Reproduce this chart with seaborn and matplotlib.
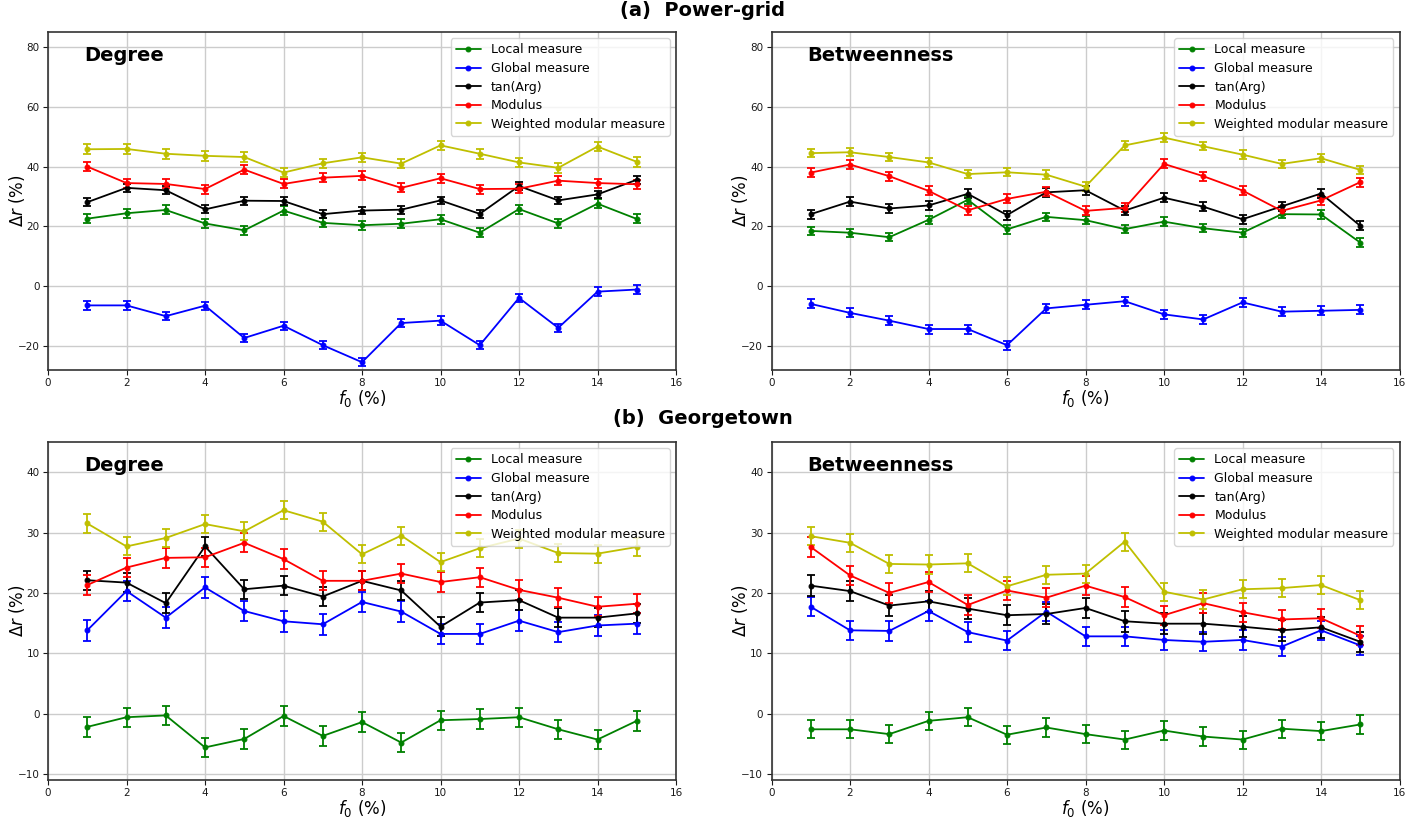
import numpy as np
import pandas as pd
import matplotlib
matplotlib.use("Agg")
import matplotlib.pyplot as plt
import seaborn as sns

f0 = [1, 2, 3, 4, 5, 6, 7, 8, 9, 10, 11, 12, 13, 14, 15]
names = ["Local measure", "Global measure", "tan(Arg)", "Modulus", "Weighted modular measure"]
colors = ["g", "b", "k", "r", "y"]

# (a) Power-grid, Degree
pg_deg_local = [22.6, 24.4, 25.5, 21.0, 18.7, 25.3, 21.2, 20.4, 20.9, 22.4, 17.9, 25.8, 21.0, 27.6, 22.5]
pg_deg_global = [-6.4, -6.4, -10.0, -6.5, -17.3, -13.2, -19.7, -25.4, -12.3, -11.5, -19.7, -3.9, -13.9, -1.8, -1.1]
pg_deg_tan = [28.1, 32.9, 32.1, 25.7, 28.6, 28.5, 24.1, 25.3, 25.6, 28.7, 24.2, 33.5, 28.7, 30.7, 35.6]
pg_deg_mod = [40.0, 34.5, 34.2, 32.5, 39.0, 34.2, 36.3, 36.9, 32.9, 36.1, 32.5, 32.6, 35.3, 34.5, 34.1]
pg_deg_wmm = [45.8, 45.9, 44.3, 43.6, 43.2, 38.0, 41.1, 43.1, 41.0, 47.1, 44.3, 41.4, 39.6, 46.7, 41.6]
pg_deg_err = [1.5, 1.4, 1.3, 1.5, 1.6]

# (a) Power-grid, Betweenness
pg_bet_local = [18.5, 17.9, 16.4, 22.2, 28.9, 19.0, 23.2, 22.1, 19.1, 21.6, 19.4, 17.9, 24.1, 24.0, 14.6]
pg_bet_global = [-5.9, -8.9, -11.5, -14.3, -14.3, -19.7, -7.4, -6.2, -5.0, -9.4, -11.1, -5.4, -8.5, -8.2, -7.9]
pg_bet_tan = [24.1, 28.3, 26.0, 27.0, 30.9, 23.8, 31.4, 32.1, 25.3, 29.6, 26.6, 22.4, 26.7, 31.0, 20.2]
pg_bet_mod = [38.0, 40.7, 36.8, 31.9, 25.4, 29.2, 31.6, 25.2, 26.2, 40.9, 36.8, 32.0, 25.2, 28.7, 34.8]
pg_bet_wmm = [44.5, 44.8, 43.2, 41.4, 37.5, 38.1, 37.3, 33.3, 47.1, 49.7, 46.8, 44.0, 40.9, 42.8, 38.9]
pg_bet_err = [1.4, 1.5, 1.5, 1.5, 1.4]

# (b) Georgetown, Degree
gt_deg_local = [-2.2, -0.6, -0.3, -5.6, -4.2, -0.4, -3.7, -1.4, -4.8, -1.1, -0.9, -0.6, -2.6, -4.3, -1.2]
gt_deg_global = [13.8, 20.3, 15.9, 20.9, 17.0, 15.3, 14.8, 18.5, 16.9, 13.2, 13.2, 15.4, 13.5, 14.6, 14.9]
gt_deg_tan = [22.1, 21.7, 18.3, 27.7, 20.6, 21.2, 19.4, 22.0, 20.4, 14.4, 18.4, 18.8, 15.9, 15.9, 16.6]
gt_deg_mod = [21.3, 24.2, 25.8, 25.9, 28.3, 25.6, 22.0, 22.0, 23.2, 21.8, 22.6, 20.5, 19.2, 17.7, 18.2]
gt_deg_wmm = [31.5, 27.7, 29.1, 31.4, 30.2, 33.7, 31.8, 26.4, 29.5, 25.1, 27.4, 29.0, 26.6, 26.5, 27.6]
gt_deg_err = [1.6, 1.7, 1.6, 1.6, 1.5]

# (b) Georgetown, Betweenness
gt_bet_local = [-2.6, -2.6, -3.4, -1.2, -0.6, -3.5, -2.3, -3.4, -4.3, -2.8, -3.8, -4.3, -2.5, -2.9, -1.8]
gt_bet_global = [17.7, 13.8, 13.7, 17.0, 13.5, 12.1, 16.9, 12.8, 12.8, 12.2, 11.9, 12.2, 11.1, 13.8, 11.3]
gt_bet_tan = [21.2, 20.3, 17.9, 18.6, 17.4, 16.3, 16.5, 17.5, 15.3, 14.9, 14.9, 14.4, 13.8, 14.3, 11.9]
gt_bet_mod = [27.6, 22.9, 20.0, 21.8, 18.0, 20.4, 19.2, 21.2, 19.3, 16.3, 18.3, 16.8, 15.6, 15.8, 12.9]
gt_bet_wmm = [29.4, 28.3, 24.8, 24.7, 24.9, 21.1, 23.0, 23.2, 28.5, 20.2, 18.9, 20.6, 20.8, 21.3, 18.8]
gt_bet_err = [1.5, 1.6, 1.7, 1.6, 1.5]

sns.set_style("whitegrid", {"grid.color": "#cccccc", "axes.edgecolor": "0.2",
                            "xtick.bottom": True, "ytick.left": True,
                            "text.color": "black", "xtick.color": "0.1", "ytick.color": "0.1",
                            "axes.labelcolor": "black"})
plt.rcParams["font.family"] = ["DejaVu Sans"]
plt.rcParams["xtick.major.size"] = 3.5
plt.rcParams["ytick.major.size"] = 3.5
plt.rcParams["xtick.major.pad"] = 2.5
plt.rcParams["ytick.major.pad"] = 2.5
plt.rcParams["xtick.labelsize"] = 7.5
plt.rcParams["ytick.labelsize"] = 7.5

fig = plt.figure(figsize=(14.06, 8.17), dpi=100)
W, H = 1406, 817
ax_pos = {
    "a_l": [48 / W, 1 - 370 / H, 628 / W, 338 / H],
    "a_r": [771.5 / W, 1 - 370 / H, 628 / W, 338 / H],
    "b_l": [48 / W, 1 - 780 / H, 628 / W, 338 / H],
    "b_r": [771.5 / W, 1 - 780 / H, 628 / W, 338 / H],
}

panels = [
    ("a_l", "Degree", [pg_deg_local, pg_deg_global, pg_deg_tan, pg_deg_mod, pg_deg_wmm], pg_deg_err, (-28, 85), np.arange(-20, 81, 20)),
    ("a_r", "Betweenness", [pg_bet_local, pg_bet_global, pg_bet_tan, pg_bet_mod, pg_bet_wmm], pg_bet_err, (-28, 85), np.arange(-20, 81, 20)),
    ("b_l", "Degree", [gt_deg_local, gt_deg_global, gt_deg_tan, gt_deg_mod, gt_deg_wmm], gt_deg_err, (-11, 45), np.arange(-10, 41, 10)),
    ("b_r", "Betweenness", [gt_bet_local, gt_bet_global, gt_bet_tan, gt_bet_mod, gt_bet_wmm], gt_bet_err, (-11, 45), np.arange(-10, 41, 10)),
]

for key, label, series, errs, ylim, yticks in panels:
    ax = fig.add_axes(ax_pos[key])
    for name, c, vals, e in zip(names, colors, series, errs):
        df = pd.DataFrame({"f0": f0, "dr": vals})
        ax.errorbar(df["f0"], df["dr"], yerr=e, fmt="none", ecolor=c,
                    elinewidth=1.3, capsize=3, capthick=1.3, zorder=2)
        sns.lineplot(data=df, x="f0", y="dr", color=c, marker="o", markersize=3.5,
                     markeredgecolor=c, linewidth=1.3, label=name, ax=ax, zorder=3)
    ax.set_xlim(0, 16)
    ax.set_xticks(np.arange(0, 17, 2))
    ax.set_ylim(*ylim)
    ax.set_yticks(yticks)
    ax.set_xlabel("$f_0$ (%)", fontsize=12)
    ax.set_ylabel("$\\Delta r$ (%)", fontsize=12)
    ax.xaxis.set_label_coords(0.5, -0.054)
    ax.yaxis.set_label_coords(-0.034, 0.5)
    ax.grid(True, color="#cccccc", linewidth=1)
    ax.text(0.057, 0.929, label, transform=ax.transAxes, fontsize=14,
            fontweight="bold", ha="left", va="center", color="black")
    ax.legend(loc="upper right", fontsize=9, framealpha=0.8, edgecolor="#cccccc",
              labelspacing=0.45)
    for s in ax.spines.values():
        s.set_linewidth(1.2)

fig.text(0.5, 1 - 10 / H, "(a)  Power-grid", ha="center", va="center",
         fontsize=14, fontweight="bold")
fig.text(0.5, 1 - 419 / H, "(b)  Georgetown", ha="center", va="center",
         fontsize=14, fontweight="bold")

fig.savefig("out.png", dpi=100)
